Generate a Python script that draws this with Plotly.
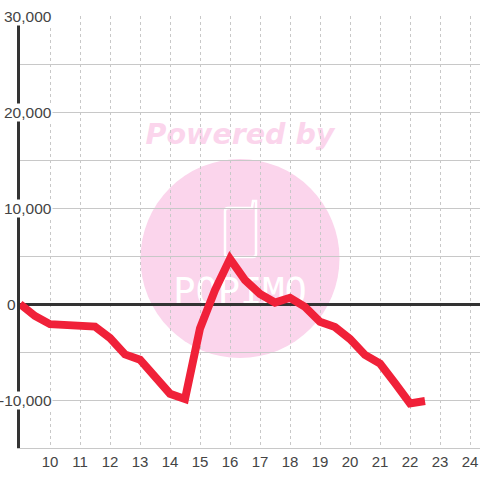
import plotly.graph_objects as go

hours = [9, 9.5, 10, 10.5, 11, 11.5, 12, 12.5, 13, 13.5, 14, 14.5, 15, 15.5, 16, 16.5,
         17, 17.5, 18, 18.5, 19, 19.5, 20, 20.5, 21, 21.5, 22, 22.5]
values = [0, -1250, -2100, -2150, -2200, -2350, -3550, -5250, -5800, -7550, -9350, -9900,
          -2550, 1450, 4700, 2500, 1050, 150, 650, -300, -1850, -2400, -3650, -5300,
          -6200, -8250, -10350, -10100]
x_ticks = list(range(10, 25))
y_grid = [-15000, -10000, -5000, 0, 5000, 10000, 15000, 20000, 25000, 30000]
y_labels = [30000, 20000, 10000, 0, -10000]

W, H = 480, 480
ML, MR, MT, MB = 20, 0, 16, 32


def px(v):
    return (v - ML) / (W - ML - MR)


def py(v):
    return 1 - (v - MT) / (H - MT - MB)


fig = go.Figure(go.Scatter(x=hours, y=values, mode="lines",
                           line=dict(color="#f02139", width=8, shape="linear"),
                           hoverinfo="skip", cliponaxis=True))

shapes = [
    dict(type="circle", xref="paper", yref="paper", layer="below",
         x0=px(140.5), x1=px(339.5), y0=py(358), y1=py(159),
         fillcolor="#fbd5ec", line_width=0),
    dict(type="path", xref="paper", yref="paper", layer="below",
         path=f"M {px(252)} {py(208)} L {px(228)} {py(208)} Q {px(225)} {py(208)} {px(225)} {py(211)} "
              f"L {px(225)} {py(254)} Q {px(225)} {py(257)} {px(228)} {py(257)} L {px(253)} {py(257)} "
              f"Q {px(256)} {py(257)} {px(256)} {py(254)} L {px(256)} {py(201)} L {px(253)} {py(201)} L {px(252)} {py(208)} Z",
         fillcolor="rgba(0,0,0,0)", line=dict(color="#ffffff", width=2.5)),
    dict(type="rect", xref="paper", yref="paper", layer="below",
         x0=px(120), x1=px(360), y0=py(149), y1=py(115), line_width=0,
         fillcolor="rgba(0,0,0,0)",
         label=dict(text="Powered by", textposition="middle center",
                    font=dict(family="DejaVu Sans", size=28.5, color="#fbd5ec",
                              weight="bold", style="italic"))),
    dict(type="rect", xref="paper", yref="paper", layer="below",
         x0=px(160), x1=px(320), y0=py(306), y1=py(270), line_width=0,
         fillcolor="rgba(0,0,0,0)",
         label=dict(text="POPIMO", textposition="middle center",
                    font=dict(family="DejaVu Sans Mono", size=37, color="#ffffff"))),
]

annotations = []
for v in y_labels:
    right = 16.5 if v == 0 else 52.5
    annotations.append(dict(xref="paper", yref="y", x=px(right), y=v,
                            xanchor="right", yanchor="middle", showarrow=False,
                            text=f"{v:,}", font=dict(family="Liberation Sans", size=15.5, color="#444444"),
                            bgcolor="#ffffff" if v != 0 else None, borderpad=0))

fig.update_layout(
    width=W, height=H, margin=dict(l=ML, r=MR, t=MT, b=MB),
    paper_bgcolor="#ffffff", plot_bgcolor="rgba(0,0,0,0)",
    showlegend=False, shapes=shapes, annotations=annotations,
    font=dict(family="Liberation Sans", size=15, color="#444444"),
    xaxis=dict(range=[9, 9 + 460 / 30], tickmode="array", tickvals=x_ticks,
               ticktext=[str(t) for t in x_ticks], ticks="", showgrid=True,
               gridcolor="#c8c8c8", gridwidth=1, griddash="3px,3px", zeroline=False,
               showline=True, linecolor="#c8c8c8", linewidth=1,
               tickfont=dict(family="Liberation Sans", size=15, color="#444444")),
    yaxis=dict(range=[-15000, 30000], tickmode="array", tickvals=y_grid,
               showticklabels=False, ticks="", showgrid=True,
               gridcolor="#c8c8c8", gridwidth=1, zeroline=True, zerolinecolor="#333333",
               zerolinewidth=3, showline=True, linecolor="#333333", linewidth=3),
)
fig.write_html("out.html", config=dict(displayModeBar=False),
               post_script="document.body.style.margin='0';document.documentElement.style.overflow='hidden';")
